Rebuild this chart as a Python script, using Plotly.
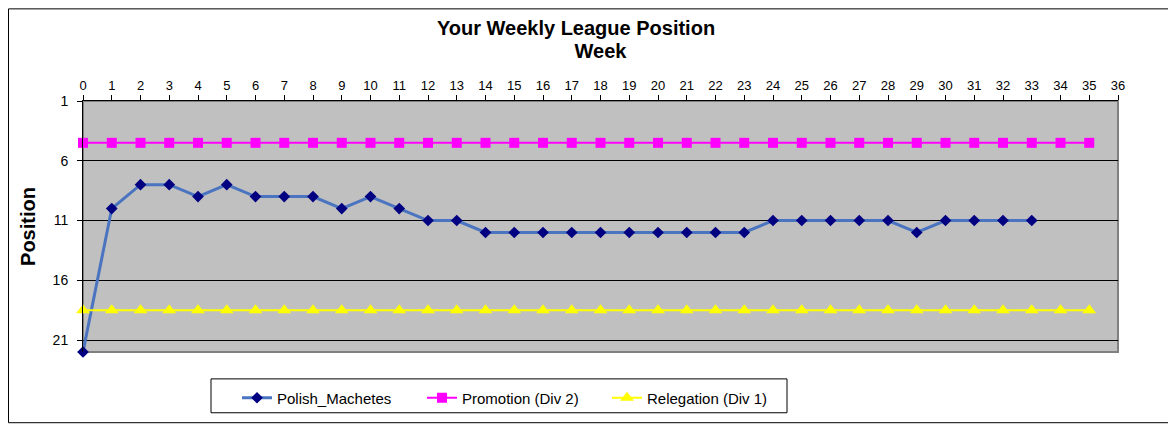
import plotly.graph_objects as go

# week numbers and positions
weeks = list(range(0, 36))
machete_weeks = list(range(0, 34))
machete_pos = [22, 10, 8, 8, 9, 8, 9, 9, 9, 10, 9, 10, 11, 11, 12, 12, 12, 12,
               12, 12, 12, 12, 12, 12, 11, 11, 11, 11, 11, 12, 11, 11, 11, 11]
promotion_pos = [4.5] * 36
relegation_pos = [18.5] * 36
y_ticks = [1, 6, 11, 16, 21]

# the page body has an 8px margin, so the figure is 8px smaller each way
W, H = 1168, 417
ML, MR, MT, MB = 75, 58, 93, 72
FONT = "Liberation Sans, Arial, sans-serif"

fig = go.Figure()

fig.add_trace(go.Scatter(
    x=machete_weeks, y=machete_pos, mode='lines+markers', name='Polish_Machetes',
    line=dict(color='#4A74C0', width=3),
    marker=dict(symbol='diamond', size=9, color='#000080'),
    cliponaxis=False))

fig.add_trace(go.Scatter(
    x=weeks, y=promotion_pos, mode='lines+markers', name='Promotion (Div 2)',
    line=dict(color='#FF00FF', width=2),
    marker=dict(symbol='square', size=10, color='#FF00FF'),
    cliponaxis=False))

fig.add_trace(go.Scatter(
    x=weeks, y=relegation_pos, mode='lines+markers', name='Relegation (Div 1)',
    line=dict(color='#FFFF00', width=2),
    marker=dict(symbol='triangle-up', size=12, color='#FFFF00'),
    cliponaxis=False))

pw = W - ML - MR
ph = H - MT - MB

# outer chart border
fig.add_shape(type='rect', xref='paper', yref='paper',
              x0=-(ML - 0.5) / pw, x1=1 + (MR - 1) / pw,
              y0=-(MB - 1) / ph, y1=1 + (MT - 0.5) / ph,
              line=dict(color='black', width=1), layer='below')
# gray plot frame (right/bottom)
fig.add_shape(type='rect', xref='paper', yref='paper', x0=0, x1=1, y0=0, y1=1,
              line=dict(color='#808080', width=2), layer='below')
# legend box, drawn by hand so it can be wider than plotly's own
fig.add_shape(type='rect', xref='paper', yref='paper',
              x0=(203 - ML) / pw, x1=(779 - ML) / pw,
              y0=-(406 - MT - ph) / ph, y1=-(372 - MT - ph) / ph,
              line=dict(color='black', width=1), layer='below')

fig.update_layout(
    width=W, height=H,
    margin=dict(l=ML, r=MR, t=MT, b=MB),
    paper_bgcolor='white',
    plot_bgcolor='#C0C0C0',
    font=dict(family=FONT, size=13, color='black'),
    title=dict(text='<b>Your Weekly League Position</b>', x=568 / W, xanchor='center',
               y=1 - 20 / H, yanchor='middle', font=dict(size=20)),
    showlegend=True,
    legend=dict(orientation='h', x=(229 - ML) / pw, xanchor='left',
                y=-(373.5 - MT - ph) / ph, yanchor='top',
                bgcolor='rgba(0,0,0,0)', borderwidth=0,
                entrywidth=140, entrywidthmode='pixels',
                font=dict(size=15)),
)

fig.update_xaxes(
    side='top', range=[0, 36], tickmode='linear', tick0=0, dtick=1,
    showgrid=False, zeroline=False,
    showline=True, linecolor='black', linewidth=1,
    ticks='outside', ticklen=5, tickcolor='black',
    title=dict(text='<b>Week</b>', font=dict(size=20), standoff=13),
)

fig.update_yaxes(
    range=[22, 1], tickvals=y_ticks,
    showgrid=True, gridcolor='black', gridwidth=1, zeroline=False,
    showline=True, linecolor='black', linewidth=1,
    ticks='outside', ticklen=5, tickcolor='black', ticklabelstandoff=6,
    tickfont=dict(size=14),
    title=dict(text='<b>Position</b>', font=dict(size=20), standoff=11),
)

fig.write_html("out.html")
